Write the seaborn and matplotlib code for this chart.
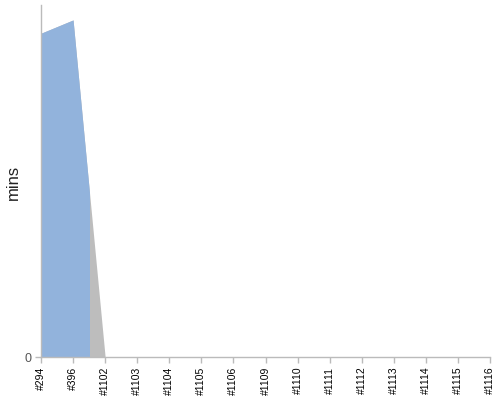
import matplotlib
matplotlib.use("Agg")
import matplotlib.pyplot as plt
import seaborn as sns
import numpy as np
from matplotlib.patches import Rectangle

categories = ["#294", "#396", "#1102", "#1103", "#1104", "#1105", "#1106",
              "#1109", "#1110", "#1111", "#1112", "#1113", "#1114", "#1115", "#1116"]
gray_values = [97.5, 101.5, 0]
blue_values = [97.5, 101.5, 0]
blue_end = 1.5  # blue series visible up to halfway between #396 and #1102

sns.set_theme(style="white")
plt.rcParams['font.family'] = ['Liberation Sans', 'DejaVu Sans']

fig = plt.figure(figsize=(5, 4), dpi=100)
ax = fig.add_axes([0.082, 0.1075, 0.898, 0.88])

x = np.arange(len(categories))
xg = x[:len(gray_values)]
ax.fill_between(xg, 0, gray_values, color="#bdbdbd", linewidth=0)
poly = ax.fill_between(xg, 0, blue_values, color="#92b3dc", linewidth=0)
clip = Rectangle((0, 0), blue_end, 200, transform=ax.transData)
poly.set_clip_path(clip)

ax.set_xlim(0, len(categories) - 1)
ax.set_ylim(0, 106)
ax.set_xticks(x)
ax.set_xticklabels(categories, rotation=90, fontsize=7.5, color="black")
ax.set_yticks([0])
ax.set_yticklabels(["0"], fontsize=9, color="#555555")
ax.set_ylabel("mins", fontsize=12, color="#222222")
ax.yaxis.set_label_coords(-0.045, 0.495)

for s in ["top", "right"]:
    ax.spines[s].set_visible(False)
for s in ["left", "bottom"]:
    ax.spines[s].set_color("#bbbbbb")
    ax.spines[s].set_linewidth(1)
ax.tick_params(axis="both", length=4, color="#bbbbbb", width=1, bottom=True, left=True, pad=3)

fig.savefig("out.png", dpi=100)
